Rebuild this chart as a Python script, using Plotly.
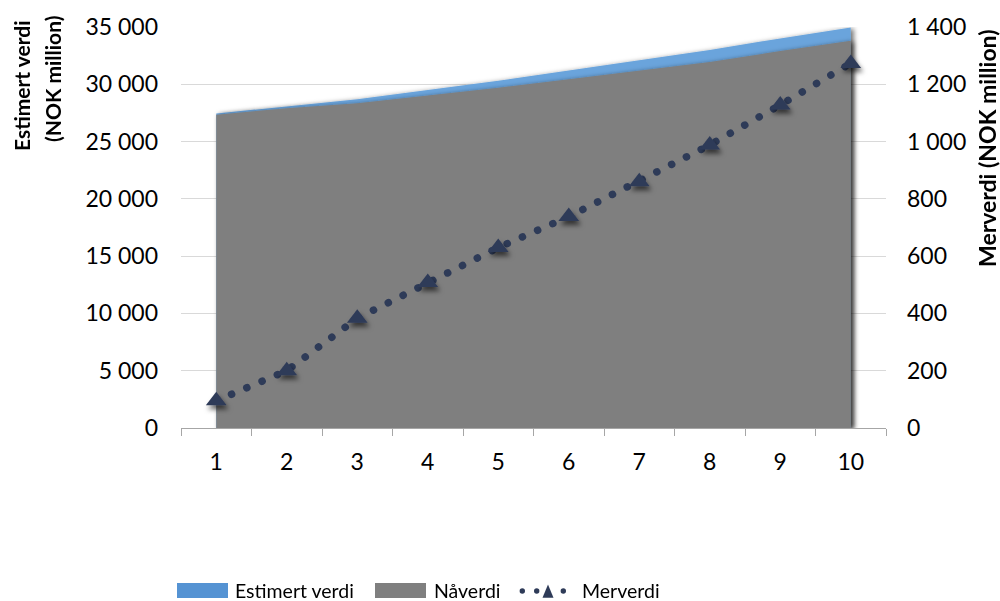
import plotly.graph_objects as go

# ---- data -------------------------------------------------------------
years = ["1", "2", "3", "4", "5", "6", "7", "8", "9", "10"]
estimert_verdi = [27450, 28100, 28700, 29500, 30300, 31200, 32100, 33000, 34000, 34950]
naaverdi = [27350, 27900, 28350, 29000, 29700, 30450, 31200, 31950, 32900, 33800]
merverdi = [95, 200, 383, 508, 630, 738, 860, 988, 1128, 1273]

left_ticks = [0, 5000, 10000, 15000, 20000, 25000, 30000, 35000]
right_ticks = [0, 200, 400, 600, 800, 1000, 1200, 1400]

# ---- styling ----------------------------------------------------------
BLUE = "#6AA4DC"
BLUE_KEY = "#5593D3"
GREY = "#7F7F7F"
NAVY = "#2E3B58"
FONT = "Lato"

W, H = 1000, 601
L, R, T, B = 181, 114, 27, 173
PW, PH = W - L - R, H - T - B


def px(x):
    """Horizontal pixel position -> paper coordinate."""
    return (x - L) / PW


def py(y):
    """Vertical pixel position -> paper coordinate."""
    return (H - B - y) / PH


fig = go.Figure()

fig.add_trace(go.Scatter(
    x=years, y=estimert_verdi, name="Estimert verdi", mode="lines",
    line=dict(width=0, color=BLUE), fill="tozeroy", fillcolor=BLUE,
    showlegend=False,
))
fig.add_trace(go.Scatter(
    x=years, y=naaverdi, name="Nåverdi", mode="lines",
    line=dict(width=0, color=GREY), fill="tozeroy", fillcolor=GREY,
    showlegend=False,
))
fig.add_trace(go.Scatter(
    x=years, y=merverdi, name="Merverdi", yaxis="y2", mode="lines+markers",
    line=dict(color=NAVY, width=7.5, dash="0.1px,16.5px"),
    marker=dict(symbol="triangle-up", size=18, color=NAVY),
    showlegend=False,
))

tick_font = dict(family=FONT, size=23, color="#000000")

fig.update_layout(
    width=W, height=H,
    margin=dict(l=L, r=R, t=T, b=B, pad=0),
    paper_bgcolor="white", plot_bgcolor="white",
    separators=", ",
    font=dict(family=FONT, size=23, color="#000000"),
    xaxis=dict(
        type="category", range=[-0.5, 9.5],
        tickson="boundaries", ticks="outside", ticklen=7, tickwidth=1,
        tickcolor="#A6A6A6", showline=True, linecolor="#A6A6A6", linewidth=1,
        showgrid=False, zeroline=False, ticklabelstandoff=13,
        tickfont=tick_font,
    ),
    yaxis=dict(
        range=[0, 35000], tickvals=left_ticks, tickformat=",d",
        separatethousands=True,
        showgrid=True, gridcolor="#D9D9D9", gridwidth=1,
        zeroline=False, showline=False, ticks="", ticklabelstandoff=22,
        tickfont=tick_font,
    ),
    yaxis2=dict(
        range=[0, 1400], tickvals=right_ticks, tickformat=",d",
        separatethousands=True,
        overlaying="y", side="right", showgrid=False,
        zeroline=False, showline=False, ticks="", ticklabelstandoff=20,
        tickfont=tick_font,
    ),
    showlegend=False,
)

# ---- axis titles ------------------------------------------------------
title_font = dict(family=FONT, size=21, color="#000000")
fig.add_annotation(text="<b>Estimert verdi</b>", textangle=-90,
                   x=px(21), y=py(86), xref="paper", yref="paper",
                   xanchor="center", yanchor="middle", showarrow=False,
                   font=title_font)
fig.add_annotation(text="<b>(NOK million)</b>", textangle=-90,
                   x=px(52), y=py(79), xref="paper", yref="paper",
                   xanchor="center", yanchor="middle", showarrow=False,
                   font=title_font)
fig.add_annotation(text="<b>Merverdi (NOK million)</b>", textangle=-90,
                   x=px(987), y=py(148), xref="paper", yref="paper",
                   xanchor="center", yanchor="middle", showarrow=False,
                   font=dict(family=FONT, size=23, color="#000000"))

# ---- legend -----------------------------------------------------------
key_font = dict(family=FONT, size=19.5, color="#000000")
key_y = 590
for label, x_text in [("Estimert verdi", 233), ("Nåverdi", 432), ("Merverdi", 580)]:
    fig.add_annotation(text=label, x=px(x_text), y=py(key_y),
                       xref="paper", yref="paper", xanchor="left",
                       yanchor="middle", showarrow=False, font=key_font)

for x0, x1, colour in [(177, 228, BLUE_KEY), (375, 426, GREY)]:
    fig.add_shape(type="rect", xref="paper", yref="paper",
                  x0=px(x0), x1=px(x1), y0=py(598), y1=py(583),
                  fillcolor=colour, line=dict(width=0))

for cx in (522.3, 536.7, 563.3):
    fig.add_shape(type="circle", xref="paper", yref="paper",
                  x0=px(cx - 2.7), x1=px(cx + 2.7),
                  y0=py(591 + 2.7), y1=py(591 - 2.7),
                  fillcolor=NAVY, line=dict(width=0))
fig.add_shape(type="path", xref="paper", yref="paper",
              path=(f"M {px(542.5)},{py(597.7)} L {px(553.5)},{py(597.7)} "
                    f"L {px(548)},{py(584.5)} Z"),
              fillcolor=NAVY, line=dict(width=0))

# ---- round dots on the dotted line and soft drop shadows ----------------
post = """
(function(){
  var gd = document.getElementById('{plot_id}');
  var ns = 'http://www.w3.org/2000/svg';
  function addFilter(svg, id, dx, dy, sd, op){
    if (document.getElementById(id)) return;
    var defs = svg.querySelector('defs');
    var f = document.createElementNS(ns, 'filter');
    f.setAttribute('id', id);
    f.setAttribute('x', '-20%'); f.setAttribute('y', '-20%');
    f.setAttribute('width', '140%'); f.setAttribute('height', '140%');
    var d = document.createElementNS(ns, 'feDropShadow');
    d.setAttribute('dx', dx); d.setAttribute('dy', dy);
    d.setAttribute('stdDeviation', sd);
    d.setAttribute('flood-color', '#000');
    d.setAttribute('flood-opacity', op);
    f.appendChild(d); defs.appendChild(f);
  }
  function dress(){
    var svg = gd.querySelector('svg.main-svg');
    if (!svg) return;
    addFilter(svg, 'areaShadow', 3, 1, 2.5, 0.55);
    addFilter(svg, 'markShadow', 2, 4, 2.5, 0.6);
    var traces = gd.querySelectorAll('.scatterlayer .trace');
    if (traces.length < 3) return;
    traces[0].setAttribute('filter', 'url(#areaShadow)');
    traces[1].setAttribute('filter', 'url(#areaShadow)');
    var line = traces[2].querySelector('.js-line');
    if (line) { line.style.strokeLinecap = 'round'; }
    var pts = traces[2].querySelector('.points');
    if (pts) pts.setAttribute('filter', 'url(#markShadow)');
  }
  dress();
  if (gd.on) gd.on('plotly_afterplot', dress);
})();
"""

fig.write_html("out.html", post_script=post, config={"displayModeBar": False})
